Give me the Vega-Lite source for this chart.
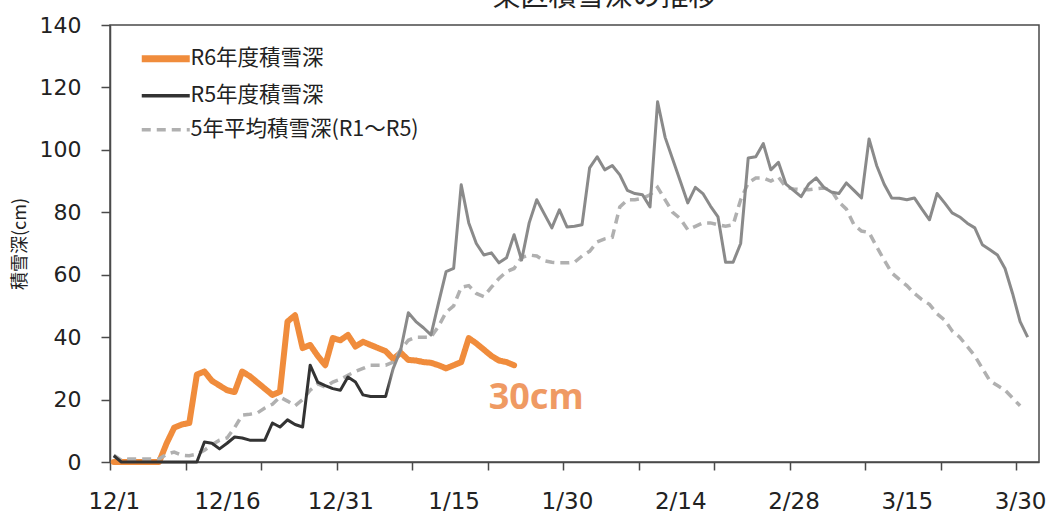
{
"$schema": "https://vega.github.io/schema/vega-lite/v6.json",
"width": 929,
"height": 437,
"autosize": {"type": "none"},
"padding": {"left": 110, "top": 25, "right": 9, "bottom": 49},
"background": "white",
"title": {"text": "東区積雪深の推移", "font": "Noto Sans CJK JP", "fontSize": 28, "fontWeight": "normal", "color": "#222", "anchor": "middle", "offset": 2, "dx": 30},
"datasets": {"snow": [
{"s":"R6","day":0,"depth":0},{"s":"R6","day":1,"depth":0},{"s":"R6","day":2,"depth":0},{"s":"R6","day":3,"depth":0},{"s":"R6","day":4,"depth":0},{"s":"R6","day":5,"depth":0},{"s":"R6","day":6,"depth":0},{"s":"R6","day":7,"depth":6},{"s":"R6","day":8,"depth":11},{"s":"R6","day":9,"depth":12},{"s":"R6","day":10,"depth":12.5},{"s":"R6","day":11,"depth":28},{"s":"R6","day":12,"depth":29},{"s":"R6","day":13,"depth":26},{"s":"R6","day":14,"depth":24.5},{"s":"R6","day":15,"depth":23},{"s":"R6","day":16,"depth":22.4},{"s":"R6","day":17,"depth":29},{"s":"R6","day":18,"depth":27.5},{"s":"R6","day":19,"depth":25.5},{"s":"R6","day":20,"depth":23.5},{"s":"R6","day":21,"depth":21.5},{"s":"R6","day":22,"depth":22.5},{"s":"R6","day":23,"depth":45},{"s":"R6","day":24,"depth":47},{"s":"R6","day":25,"depth":36.5},{"s":"R6","day":26,"depth":37.5},{"s":"R6","day":27,"depth":34},{"s":"R6","day":28,"depth":31},{"s":"R6","day":29,"depth":39.7},{"s":"R6","day":30,"depth":39},{"s":"R6","day":31,"depth":40.7},{"s":"R6","day":32,"depth":37},{"s":"R6","day":33,"depth":38.5},{"s":"R6","day":34,"depth":37.5},{"s":"R6","day":35,"depth":36.5},{"s":"R6","day":36,"depth":35.5},{"s":"R6","day":37,"depth":33},{"s":"R6","day":38,"depth":35},{"s":"R6","day":39,"depth":32.7},{"s":"R6","day":40,"depth":32.5},{"s":"R6","day":41,"depth":32},{"s":"R6","day":42,"depth":31.8},{"s":"R6","day":43,"depth":31},{"s":"R6","day":44,"depth":30},{"s":"R6","day":45,"depth":31},{"s":"R6","day":46,"depth":32},{"s":"R6","day":47,"depth":39.7},{"s":"R6","day":48,"depth":38},{"s":"R6","day":49,"depth":36},{"s":"R6","day":50,"depth":34},{"s":"R6","day":51,"depth":32.5},{"s":"R6","day":52,"depth":32},{"s":"R6","day":53,"depth":31},
{"s":"R5","day":0,"depth":2},{"s":"R5","day":1,"depth":0},{"s":"R5","day":2,"depth":0},{"s":"R5","day":3,"depth":0},{"s":"R5","day":4,"depth":0},{"s":"R5","day":5,"depth":0},{"s":"R5","day":6,"depth":0},{"s":"R5","day":7,"depth":0},{"s":"R5","day":8,"depth":0},{"s":"R5","day":9,"depth":0},{"s":"R5","day":10,"depth":0},{"s":"R5","day":11,"depth":0},{"s":"R5","day":12,"depth":6.4},{"s":"R5","day":13,"depth":6},{"s":"R5","day":14,"depth":4.2},{"s":"R5","day":15,"depth":6},{"s":"R5","day":16,"depth":8},{"s":"R5","day":17,"depth":7.7},{"s":"R5","day":18,"depth":7},{"s":"R5","day":19,"depth":7},{"s":"R5","day":20,"depth":7},{"s":"R5","day":21,"depth":12.5},{"s":"R5","day":22,"depth":11.2},{"s":"R5","day":23,"depth":13.5},{"s":"R5","day":24,"depth":12},{"s":"R5","day":25,"depth":11.2},{"s":"R5","day":26,"depth":31},{"s":"R5","day":27,"depth":25.6},{"s":"R5","day":28,"depth":24.5},{"s":"R5","day":29,"depth":23.5},{"s":"R5","day":30,"depth":23},{"s":"R5","day":31,"depth":27.2},{"s":"R5","day":32,"depth":25.6},{"s":"R5","day":33,"depth":21.5},{"s":"R5","day":34,"depth":21},{"s":"R5","day":35,"depth":21},{"s":"R5","day":36,"depth":21},{"s":"R5","day":37,"depth":30},{"s":"R5","day":38,"depth":36},{"s":"R5","day":39,"depth":47.8},{"s":"R5","day":40,"depth":45},{"s":"R5","day":41,"depth":43},{"s":"R5","day":42,"depth":40.7},{"s":"R5","day":43,"depth":51},{"s":"R5","day":44,"depth":61},{"s":"R5","day":45,"depth":62},{"s":"R5","day":46,"depth":88.8},{"s":"R5","day":47,"depth":76.6},{"s":"R5","day":48,"depth":70},{"s":"R5","day":49,"depth":66.3},{"s":"R5","day":50,"depth":67},{"s":"R5","day":51,"depth":63.8},{"s":"R5","day":52,"depth":65.4},{"s":"R5","day":53,"depth":72.8},{"s":"R5","day":54,"depth":64.7},{"s":"R5","day":55,"depth":76.6},{"s":"R5","day":56,"depth":84},{"s":"R5","day":57,"depth":79.5},{"s":"R5","day":58,"depth":75},{"s":"R5","day":59,"depth":80.8},{"s":"R5","day":60,"depth":75.3},{"s":"R5","day":61,"depth":75.5},{"s":"R5","day":62,"depth":76},{"s":"R5","day":63,"depth":94.2},{"s":"R5","day":64,"depth":97.8},{"s":"R5","day":65,"depth":93.6},{"s":"R5","day":66,"depth":95},{"s":"R5","day":67,"depth":92},{"s":"R5","day":68,"depth":87},{"s":"R5","day":69,"depth":86},{"s":"R5","day":70,"depth":85.6},{"s":"R5","day":71,"depth":81.7},{"s":"R5","day":72,"depth":115.4},{"s":"R5","day":73,"depth":104},{"s":"R5","day":74,"depth":97},{"s":"R5","day":75,"depth":90},{"s":"R5","day":76,"depth":83},{"s":"R5","day":77,"depth":88},{"s":"R5","day":78,"depth":86},{"s":"R5","day":79,"depth":82},{"s":"R5","day":80,"depth":78.5},{"s":"R5","day":81,"depth":64},{"s":"R5","day":82,"depth":64},{"s":"R5","day":83,"depth":70},{"s":"R5","day":84,"depth":97.4},{"s":"R5","day":85,"depth":97.8},{"s":"R5","day":86,"depth":102},{"s":"R5","day":87,"depth":93.6},{"s":"R5","day":88,"depth":96},{"s":"R5","day":89,"depth":89},{"s":"R5","day":90,"depth":87},{"s":"R5","day":91,"depth":85},{"s":"R5","day":92,"depth":89},{"s":"R5","day":93,"depth":91},{"s":"R5","day":94,"depth":88},{"s":"R5","day":95,"depth":86.5},{"s":"R5","day":96,"depth":86},{"s":"R5","day":97,"depth":89.4},{"s":"R5","day":98,"depth":87},{"s":"R5","day":99,"depth":84.6},{"s":"R5","day":100,"depth":103.5},{"s":"R5","day":101,"depth":95},{"s":"R5","day":102,"depth":89},{"s":"R5","day":103,"depth":84.6},{"s":"R5","day":104,"depth":84.5},{"s":"R5","day":105,"depth":84},{"s":"R5","day":106,"depth":84.6},{"s":"R5","day":107,"depth":81},{"s":"R5","day":108,"depth":77.6},{"s":"R5","day":109,"depth":86},{"s":"R5","day":110,"depth":83},{"s":"R5","day":111,"depth":79.8},{"s":"R5","day":112,"depth":78.5},{"s":"R5","day":113,"depth":76.5},{"s":"R5","day":114,"depth":75},{"s":"R5","day":115,"depth":69.6},{"s":"R5","day":116,"depth":68},{"s":"R5","day":117,"depth":66.3},{"s":"R5","day":118,"depth":62},{"s":"R5","day":119,"depth":54},{"s":"R5","day":120,"depth":45},{"s":"R5","day":121,"depth":40},
{"s":"AVG","day":0,"depth":2.2},{"s":"AVG","day":1,"depth":0.6},{"s":"AVG","day":2,"depth":1},{"s":"AVG","day":3,"depth":1},{"s":"AVG","day":4,"depth":1},{"s":"AVG","day":5,"depth":1},{"s":"AVG","day":6,"depth":1},{"s":"AVG","day":7,"depth":2.5},{"s":"AVG","day":8,"depth":3.2},{"s":"AVG","day":9,"depth":2.2},{"s":"AVG","day":10,"depth":2},{"s":"AVG","day":11,"depth":2.5},{"s":"AVG","day":12,"depth":3.8},{"s":"AVG","day":13,"depth":5.5},{"s":"AVG","day":14,"depth":7},{"s":"AVG","day":15,"depth":7.7},{"s":"AVG","day":16,"depth":11},{"s":"AVG","day":17,"depth":15},{"s":"AVG","day":18,"depth":15.3},{"s":"AVG","day":19,"depth":15.7},{"s":"AVG","day":20,"depth":17.3},{"s":"AVG","day":21,"depth":18.5},{"s":"AVG","day":22,"depth":20.8},{"s":"AVG","day":23,"depth":19.5},{"s":"AVG","day":24,"depth":18},{"s":"AVG","day":25,"depth":20},{"s":"AVG","day":26,"depth":23},{"s":"AVG","day":27,"depth":25},{"s":"AVG","day":28,"depth":24},{"s":"AVG","day":29,"depth":25.6},{"s":"AVG","day":30,"depth":26.5},{"s":"AVG","day":31,"depth":27.8},{"s":"AVG","day":32,"depth":29},{"s":"AVG","day":33,"depth":30},{"s":"AVG","day":34,"depth":31},{"s":"AVG","day":35,"depth":31},{"s":"AVG","day":36,"depth":31},{"s":"AVG","day":37,"depth":32},{"s":"AVG","day":38,"depth":36},{"s":"AVG","day":39,"depth":39},{"s":"AVG","day":40,"depth":40},{"s":"AVG","day":41,"depth":40},{"s":"AVG","day":42,"depth":40},{"s":"AVG","day":43,"depth":43.5},{"s":"AVG","day":44,"depth":48},{"s":"AVG","day":45,"depth":50},{"s":"AVG","day":46,"depth":56},{"s":"AVG","day":47,"depth":56.5},{"s":"AVG","day":48,"depth":54},{"s":"AVG","day":49,"depth":53},{"s":"AVG","day":50,"depth":56},{"s":"AVG","day":51,"depth":58.8},{"s":"AVG","day":52,"depth":61},{"s":"AVG","day":53,"depth":62},{"s":"AVG","day":54,"depth":65.5},{"s":"AVG","day":55,"depth":66.3},{"s":"AVG","day":56,"depth":66},{"s":"AVG","day":57,"depth":64.5},{"s":"AVG","day":58,"depth":64},{"s":"AVG","day":59,"depth":63.8},{"s":"AVG","day":60,"depth":63.8},{"s":"AVG","day":61,"depth":64},{"s":"AVG","day":62,"depth":66},{"s":"AVG","day":63,"depth":67.5},{"s":"AVG","day":64,"depth":70.5},{"s":"AVG","day":65,"depth":71.5},{"s":"AVG","day":66,"depth":72},{"s":"AVG","day":67,"depth":81.7},{"s":"AVG","day":68,"depth":84},{"s":"AVG","day":69,"depth":84},{"s":"AVG","day":70,"depth":84.5},{"s":"AVG","day":71,"depth":85.6},{"s":"AVG","day":72,"depth":88},{"s":"AVG","day":73,"depth":84},{"s":"AVG","day":74,"depth":80},{"s":"AVG","day":75,"depth":78},{"s":"AVG","day":76,"depth":74.4},{"s":"AVG","day":77,"depth":75.5},{"s":"AVG","day":78,"depth":76.6},{"s":"AVG","day":79,"depth":76.6},{"s":"AVG","day":80,"depth":76},{"s":"AVG","day":81,"depth":75.5},{"s":"AVG","day":82,"depth":76},{"s":"AVG","day":83,"depth":84},{"s":"AVG","day":84,"depth":89.4},{"s":"AVG","day":85,"depth":91},{"s":"AVG","day":86,"depth":91},{"s":"AVG","day":87,"depth":90},{"s":"AVG","day":88,"depth":91.3},{"s":"AVG","day":89,"depth":88},{"s":"AVG","day":90,"depth":87.5},{"s":"AVG","day":91,"depth":87.3},{"s":"AVG","day":92,"depth":87.2},{"s":"AVG","day":93,"depth":87.5},{"s":"AVG","day":94,"depth":87.8},{"s":"AVG","day":95,"depth":87},{"s":"AVG","day":96,"depth":83.3},{"s":"AVG","day":97,"depth":81},{"s":"AVG","day":98,"depth":76},{"s":"AVG","day":99,"depth":74},{"s":"AVG","day":100,"depth":73.5},{"s":"AVG","day":101,"depth":69},{"s":"AVG","day":102,"depth":64.7},{"s":"AVG","day":103,"depth":60.6},{"s":"AVG","day":104,"depth":58.5},{"s":"AVG","day":105,"depth":56.5},{"s":"AVG","day":106,"depth":54},{"s":"AVG","day":107,"depth":52},{"s":"AVG","day":108,"depth":50.5},{"s":"AVG","day":109,"depth":47.5},{"s":"AVG","day":110,"depth":45.5},{"s":"AVG","day":111,"depth":42},{"s":"AVG","day":112,"depth":40},{"s":"AVG","day":113,"depth":37},{"s":"AVG","day":114,"depth":34},{"s":"AVG","day":115,"depth":30},{"s":"AVG","day":116,"depth":26},{"s":"AVG","day":117,"depth":24.5},{"s":"AVG","day":118,"depth":23},{"s":"AVG","day":119,"depth":20.5},{"s":"AVG","day":120,"depth":18}
]},
"data": {"name": "snow"},
"encoding": {
  "x": {"field": "day", "type": "quantitative",
    "scale": {"domain": [-0.5, 122.5], "nice": false, "zero": false},
    "axis": {"title": null, "values": [-0.5,0,9.5,15,19.5,29.5,30,39.5,45,49.5,59.5,60,69.5,75,79.5,89.5,90,99.5,105,109.5,119.5,120],
      "labelExpr": "datum.value % 15 == 0 ? ['12/1','12/16','12/31','1/15','1/30','2/14','2/28','3/15','3/30'][datum.value/15] : ''",
      "tickOpacity": {"condition": {"test": "(datum.value + 0.5) % 10 == 0", "value": 1}, "value": 0},
      "tickSize": 8, "labelPadding": 20, "labelFontSize": 23, "labelFont": "DejaVu Sans", "labelColor": "#222",
      "labelOverlap": false, "labelFlush": false, "labelBound": false, "grid": false}},
  "y": {"field": "depth", "type": "quantitative",
    "scale": {"domain": [0, 140], "nice": false},
    "axis": {"title": "積雪深(cm)", "values": [0,20,40,60,80,100,120,140], "tickSize": 9, "labelPadding": 20, "labelFontSize": 22, "labelFont": "DejaVu Sans", "labelColor": "#222",
      "titleFont": "Noto Sans CJK JP", "titleFontSize": 18, "titleFontWeight": "normal", "titleColor": "#222", "titlePadding": 10, "grid": false}}
},
"layer": [
  {"transform": [{"filter": "datum.s == 'R6'"}],
   "mark": {"type": "line", "strokeWidth": 6, "strokeJoin": "round", "strokeCap": "round"},
   "encoding": {
     "color": {"field": "s", "type": "nominal", "scale": {"domain": ["R6","R5","AVG"], "range": ["#F08C3C","#333333","#b0b0b0"]},
       "legend": {"title": null, "orient": "none", "legendX": 45, "legendY": 23, "padding": 0, "symbolType": "stroke", "symbolSize": 2304, "symbolStrokeWidth": 3,
         "labelFont": "Noto Sans CJK JP", "labelFontSize": 21.5, "labelColor": "#222", "labelOffset": 14, "labelLimit": 0, "rowPadding": 11,
         "labelExpr": "datum.value == 'R6' ? 'R6年度積雪深' : datum.value == 'R5' ? 'R5年度積雪深' : '5年平均積雪深(R1～R5)'",
         "encode": {"symbols": {"update": {"strokeWidth": {"signal": "datum.value == 'R6' ? 7 : 3.5"}}}}}},
     "strokeDash": {"field": "s", "type": "nominal", "scale": {"domain": ["R6","R5","AVG"], "range": [[1,0],[1,0],[9,6]]},
       "legend": {"title": null, "orient": "none", "legendX": 45, "legendY": 23, "padding": 0, "symbolType": "stroke", "symbolSize": 2304, "symbolStrokeWidth": 3,
         "labelFont": "Noto Sans CJK JP", "labelFontSize": 21.5, "labelColor": "#222", "labelOffset": 14, "labelLimit": 0, "rowPadding": 11,
         "labelExpr": "datum.value == 'R6' ? 'R6年度積雪深' : datum.value == 'R5' ? 'R5年度積雪深' : '5年平均積雪深(R1～R5)'",
         "encode": {"symbols": {"update": {"strokeWidth": {"signal": "datum.value == 'R6' ? 7 : 3.5"}}}}}}
   }},
  {"transform": [{"filter": "datum.s == 'AVG'"}],
   "mark": {"type": "line", "strokeWidth": 3.5},
   "encoding": {
     "color": {"field": "s", "type": "nominal", "scale": {"domain": ["R6","R5","AVG"], "range": ["#F08C3C","#333333","#b0b0b0"]}},
     "strokeDash": {"field": "s", "type": "nominal", "scale": {"domain": ["R6","R5","AVG"], "range": [[1,0],[1,0],[9,6]]}}
   }},
  {"transform": [{"filter": "datum.s == 'R5'"}],
   "mark": {"type": "line", "strokeWidth": 3, "strokeJoin": "round",
     "stroke": {"gradient": "linear", "x1": 0, "y1": 0, "x2": 1, "y2": 0,
       "stops": [{"offset": 0, "color": "#333333"}, {"offset": 0.298, "color": "#333333"}, {"offset": 0.305, "color": "#8a8a8a"}, {"offset": 1, "color": "#8a8a8a"}]}},
   "encoding": {}},
  {"transform": [{"filter": "datum.s == 'R6' && datum.day == 53"}],
   "mark": {"type": "text", "text": "30cm", "font": "Noto Sans", "fontWeight": "bold", "fontSize": 36, "color": "#EF9A63", "align": "center", "baseline": "middle", "dx": 22, "dy": 33}}
],
"config": {
  "view": {"stroke": "#4a4a4a", "strokeWidth": 1.5},
  "axis": {"domainColor": "#4a4a4a", "domainWidth": 1.5, "tickColor": "#4a4a4a", "tickWidth": 1.5}
}
}
